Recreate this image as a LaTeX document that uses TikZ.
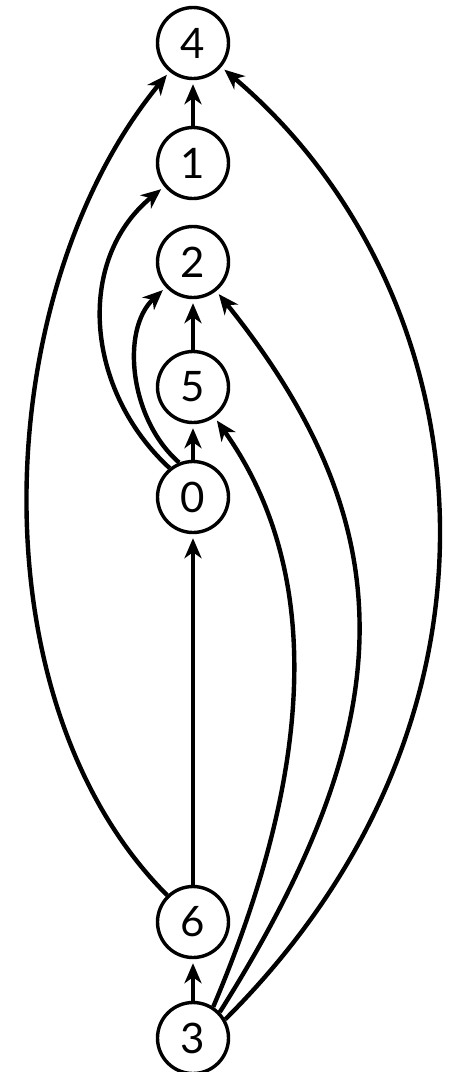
\documentclass[tikz,border=0pt]{standalone}
\usepackage{fontspec}
\setmainfont{Lato}
\usetikzlibrary{arrows.meta}

\begin{document}
\begin{tikzpicture}[x=0.5pt,y=-0.5pt,>={Stealth[length=10pt,width=8.5pt,inset=3pt]},
  vtx/.style={circle,draw,line width=1.7pt,minimum size=35.5pt,inner sep=0pt,font=\fontsize{21}{21}\selectfont},
  arc/.style={->,line width=2.2pt,shorten >=2pt}]
\useasboundingbox (0,0) rectangle (449,1072);
\foreach \n/\yp in {4/43,1/163,2/262,5/387,0/497,6/922,3/1038}{\node[vtx] (n\n) at (193,\yp) {\n};}
\foreach \a/\b in {1/4,5/2,0/5,6/0,3/6}{\draw[arc] (n\a) -- (n\b);}
% bent arcs
\draw[arc] (n0.129) .. controls (85,390) and (75,260) .. (n1);
\draw[arc] (n0.112) .. controls (130,420) and (120,330) .. (n2);
\draw[arc] (n6.134) .. controls (-28,700) and (-10,290) .. (n4);
\draw[arc] (n3.57) .. controls (325,743) and (314,557) .. (n5);
\draw[arc] (n3.44) .. controls (402,723) and (408,530) .. (n2);
\draw[arc] (n3.30) .. controls (541,704) and (478,285) .. (n4);
\end{tikzpicture}
\end{document}
